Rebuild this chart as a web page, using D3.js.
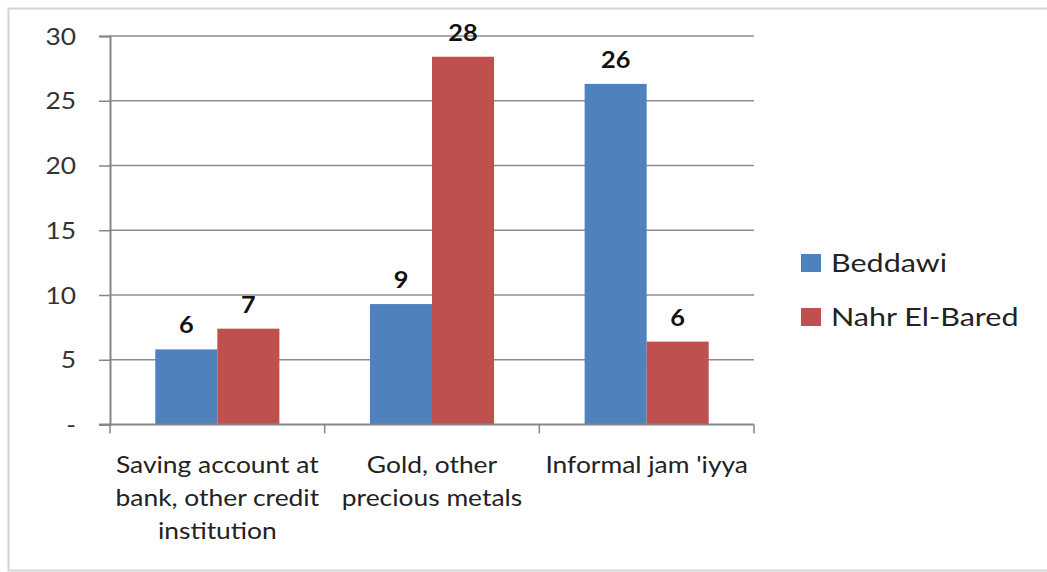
<!DOCTYPE html>
<html>
<head>
<meta charset="utf-8">
<script src="https://cdn.jsdelivr.net/npm/d3@7"></script>
<style>
  html, body { margin: 0; padding: 0; background: #fff; }
  svg { display: block; font-family: Lato, "Open Sans", sans-serif; }
</style>
</head>
<body>
<svg id="chart" width="1047" height="572"></svg>
<script>
// --- data ---
const categories = ["Saving account at bank, other credit institution", "Gold, other precious metals", "Informal jam 'iyya"];
const categoryLines = [
  ["Saving account at", "bank, other credit", "institution"],
  ["Gold, other", "precious metals"],
  ["Informal jam 'iyya"]
];
const seriesNames = ["Beddawi", "Nahr El-Bared"];
const beddawi = [5.8, 9.3, 26.3];
const nahrElBared = [7.4, 28.4, 6.4];
const yTicks = [0, 5, 10, 15, 20, 25, 30];
const colors = ["#4F81BD", "#C0504D"];

const svg = d3.select("#chart");

// l'image d'origine est un peu etiree en largeur : on etire le texte pareil
function stretched(g, x, y, sx) {
  return g.append("g").attr("transform", `translate(${x},${y}) scale(${sx},1)`)
    .append("text").attr("x", 0).attr("y", 0);
}

// cadre exterieur
svg.append("rect")
  .attr("x", 8.5).attr("y", 8.5)
  .attr("width", 1060).attr("height", 562)
  .attr("fill", "none").attr("stroke", "#d4d4d4").attr("stroke-width", 2);

const plot = { left: 110, right: 754, top: 36, bottom: 424.5 };

const x0 = d3.scaleBand().domain(categories).range([plot.left, plot.right]).padding(0);
const x1 = d3.scaleBand().domain(seriesNames).range([0, x0.bandwidth()])
  .paddingInner(0).paddingOuter(0.73);
const y = d3.scaleLinear().domain([0, 30]).range([plot.bottom, plot.top]);

// grille
svg.append("g")
  .selectAll("line")
  .data(yTicks.filter(d => d > 0))
  .join("line")
  .attr("x1", plot.left).attr("x2", plot.right)
  .attr("y1", d => y(d)).attr("y2", d => y(d))
  .attr("stroke", "#8c8c8c").attr("stroke-width", 1.5);

// axe y
const yAxis = svg.append("g")
  .attr("transform", `translate(${plot.left},0)`)
  .call(d3.axisLeft(y).tickValues(yTicks).tickSize(11).tickFormat(""));
yAxis.select(".domain").attr("stroke", "#868686").attr("stroke-width", 2);
yAxis.selectAll(".tick line").attr("stroke", "#868686").attr("stroke-width", 1.5);

const yLab = svg.append("g");
yTicks.forEach(t => {
  stretched(yLab, 76, y(t), 1.1)
    .attr("text-anchor", "end").attr("dy", "0.36em")
    .attr("font-size", 24).attr("fill", "#333")
    .text(t === 0 ? "-" : t);
});

// barres
const groups = svg.append("g")
  .selectAll("g")
  .data(categories.map((c, i) => ({ c, i })))
  .join("g")
  .attr("transform", d => `translate(${x0(d.c)},0)`);

const seriesValues = [beddawi, nahrElBared];
groups.selectAll("rect")
  .data(d => seriesNames.map((s, k) => ({ s, k, v: seriesValues[k][d.i] })))
  .join("rect")
  .attr("x", d => x1(d.s))
  .attr("y", d => y(d.v))
  .attr("width", x1.bandwidth())
  .attr("height", d => y(0) - y(d.v))
  .attr("fill", d => colors[d.k]);

groups.each(function(d) {
  const g = d3.select(this);
  seriesNames.forEach((s, k) => {
    const v = seriesValues[k][d.i];
    stretched(g, x1(s) + x1.bandwidth() / 2, y(v) - 16, 1.15)
      .attr("text-anchor", "middle")
      .attr("font-size", 22).attr("font-weight", "bold").attr("fill", "#111")
      .text(Math.round(v));
  });
});

// axe x
const xAxis = svg.append("g");
xAxis.append("line")
  .attr("x1", plot.left - 11).attr("x2", plot.right)
  .attr("y1", y(0)).attr("y2", y(0))
  .attr("stroke", "#868686").attr("stroke-width", 2);
xAxis.selectAll("line.tk")
  .data(categories.map(c => x0(c)).concat([plot.right]))
  .join("line")
  .attr("class", "tk")
  .attr("x1", d => d).attr("x2", d => d)
  .attr("y1", y(0)).attr("y2", y(0) + 9)
  .attr("stroke", "#868686").attr("stroke-width", 1.5);

categories.forEach((c, i) => {
  const t = stretched(xAxis, x0(c) + x0.bandwidth() / 2, 0, 1.1)
    .attr("text-anchor", "middle")
    .attr("font-size", 24).attr("fill", "#222");
  categoryLines[i].forEach((l, j) => {
    t.append("tspan").attr("x", 0).attr("y", 473 + j * 33).text(l);
  });
});

// legende
const legend = svg.append("g");
seriesNames.forEach((s, k) => {
  const yy = 254 + k * 54;
  legend.append("rect")
    .attr("x", 801).attr("y", yy)
    .attr("width", 20).attr("height", 18)
    .attr("fill", colors[k]);
  stretched(legend, 831, yy + 18, 1.22)
    .attr("font-size", 25).attr("fill", "#222")
    .text(s);
});
</script>
</body>
</html>
